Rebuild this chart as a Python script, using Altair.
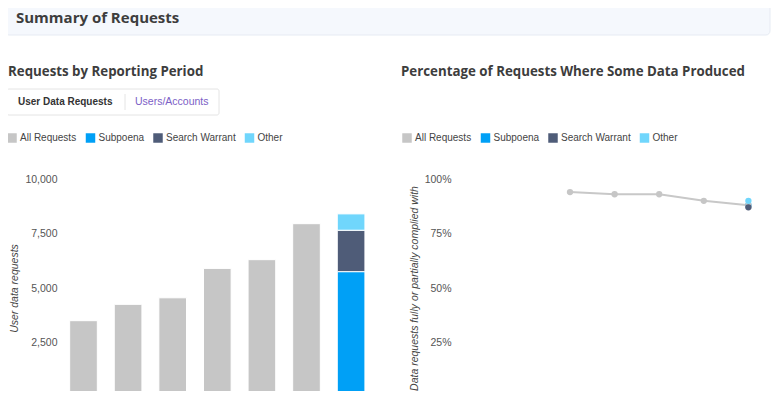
import altair as alt
import pandas as pd

# ---------------- data ----------------
periods = ["Jul–Dec 2009", "Jan–Jun 2010", "Jul–Dec 2010", "Jan–Jun 2011",
           "Jul–Dec 2011", "Jan–Jun 2012", "Jul–Dec 2012"]
series = ["All Requests", "Subpoena", "Search Warrant", "Other"]
colors = ["#c6c6c6", "#00a0f6", "#4f5c78", "#70d6fc"]

# Requests by reporting period (user data requests)
all_requests = [3500, 4250, 4550, 5900, 6300, 7950]      # first six periods
last_split = [5750, 1900, 750]                          # Subpoena, Search Warrant, Other (last period)

# Percentage of requests where some data produced
pct_periods = periods[2:]
pct_all = [0.94, 0.93, 0.93, 0.90, 0.88]
pct_last_split = [0.88, 0.87, 0.90]                     # Subpoena, Search Warrant, Other (last period)

req_ticks = [0, 2500, 5000, 7500, 10000]
pct_ticks = [0, 0.25, 0.5, 0.75, 1.0]

# ---------------- tables ----------------
bars_df = pd.DataFrame({
    "period": periods[:6] + [periods[6]] * 3,
    "series": ["All Requests"] * 6 + series[1:],
    "value": all_requests + last_split,
    "rank": [0] * 6 + [1, 2, 3],
})
line_df = pd.DataFrame({"period": pct_periods, "pct": pct_all})
pts_df = pd.concat([
    pd.DataFrame({"period": [periods[6]], "series": ["Subpoena"], "pct": [pct_last_split[0]]}),
    pd.DataFrame({"period": pct_periods, "series": ["All Requests"] * 5, "pct": pct_all}),
    pd.DataFrame({"period": [periods[6]] * 2, "series": series[2:], "pct": pct_last_split[1:]}),
], ignore_index=True)

TFONT = "Open Sans"
FONT = "Liberation Sans"
TCOL = "#3d3d3d"
one = pd.DataFrame({"k": [0]})


def label(text, x, y, size, weight="normal", color="#444", font=FONT):
    return alt.Chart(pd.DataFrame({"t": [text]})).mark_text(
        align="left", baseline="middle", font=font, fontSize=size,
        fontWeight=weight, color=color
    ).encode(text="t:N", x=alt.value(x), y=alt.value(y))


def legend(x):
    return alt.Legend(title=None, orient="none", legendX=x, legendY=125,
                      direction="horizontal", columns=4, symbolType="square",
                      symbolSize=90, symbolStrokeWidth=0, symbolOpacity=1,
                      labelFont=FONT, labelFontSize=10, labelColor="#444",
                      labelOffset=3, columnPadding=8.5, padding=0)


def yaxis(ticks, fmt, off, title):
    return alt.Axis(orient="left", values=ticks, format=fmt, grid=False,
                    domain=False, ticks=False, tickSize=0, labelPadding=0,
                    offset=off, labelFont=FONT, labelFontSize=10.5,
                    labelColor="#555", labelOverlap=False, title=title,
                    titleFont=FONT, titleFontSize=10.5, titleFontStyle="italic",
                    titleFontWeight="normal", titleColor="#444", titlePadding=5)


color_scale = alt.Scale(domain=series, range=colors)

# ---------------- page furniture ----------------
header_box = alt.Chart(one).mark_rect(
    fill="#f5f8fd", stroke="#e6ebf3", strokeWidth=1, cornerRadius=4
).encode(x=alt.value(-3), x2=alt.value(762), y=alt.value(-10), y2=alt.value(27))
header_txt = label("Summary of Requests", 8, 9.5, 15, "bold", TCOL, TFONT)
title_left = label("Requests by Reporting Period", 0, 64, 13.3, "bold", TCOL, TFONT)
title_right = label("Percentage of Requests Where Some Data Produced", 393, 64, 13.3, "bold", TCOL, TFONT)
tab_box = alt.Chart(one).mark_rect(
    fill="white", stroke="#e4e4e4", strokeWidth=1, cornerRadius=2
).encode(x=alt.value(-1), x2=alt.value(211), y=alt.value(81), y2=alt.value(107))
tab_sep = alt.Chart(one).mark_rule(color="#e4e4e4").encode(
    x=alt.value(117), y=alt.value(86), y2=alt.value(102))
tab1 = label("User Data Requests", 10, 94, 10, "bold", "#333")
tab2 = label("Users/Accounts", 127, 94, 10.5, "normal", "#7b5ec6")

# ---------------- left: bars ----------------
bars = alt.Chart(bars_df).mark_bar(stroke="white", strokeWidth=1).encode(
    x=alt.X("period:N", sort=periods,
            scale=alt.Scale(domain=periods, range=[53.2, 365.4],
                            paddingInner=0.38, paddingOuter=0.19),
            axis=None),
    y=alt.Y("value:Q", stack="zero",
            scale=alt.Scale(domain=[0, 10000], range=[389, 171], nice=False),
            axis=yaxis(req_ticks, ",.0f", -49, "User data requests")),
    color=alt.Color("series:N", scale=color_scale, legend=legend(-1)),
    order=alt.Order("rank:Q"),
)

# ---------------- right: line + points ----------------
xr = alt.X("period:N", sort=periods,
           scale=alt.Scale(type="point", domain=periods, range=[450.5, 762.7], padding=0.5),
           axis=None)
yr = alt.Y("pct:Q", scale=alt.Scale(domain=[0, 1], range=[389, 171], nice=False),
           axis=yaxis(pct_ticks, ".0%", -443, "Data requests fully or partially complied with"))
line = alt.Chart(line_df).mark_line(color="#c8c8c8", strokeWidth=2).encode(x=xr, y=yr)
pts = alt.Chart(pts_df).mark_point(filled=True, size=40, opacity=1).encode(
    x=xr, y=yr,
    color=alt.Color("series:N", scale=color_scale, legend=legend(394)),
)
right = alt.layer(line, pts)

chart = alt.layer(
    header_box, header_txt, title_left, title_right, tab_box, tab_sep, tab1, tab2,
    bars, right
).resolve_scale(
    x="independent", y="independent", color="independent"
).properties(
    width=764, height=383, padding=0, background="white",
    autosize=alt.AutoSizeParams(type="none"),
).configure_view(stroke=None)

chart.save("out.html", embed_options={"renderer": "svg", "actions": False})
